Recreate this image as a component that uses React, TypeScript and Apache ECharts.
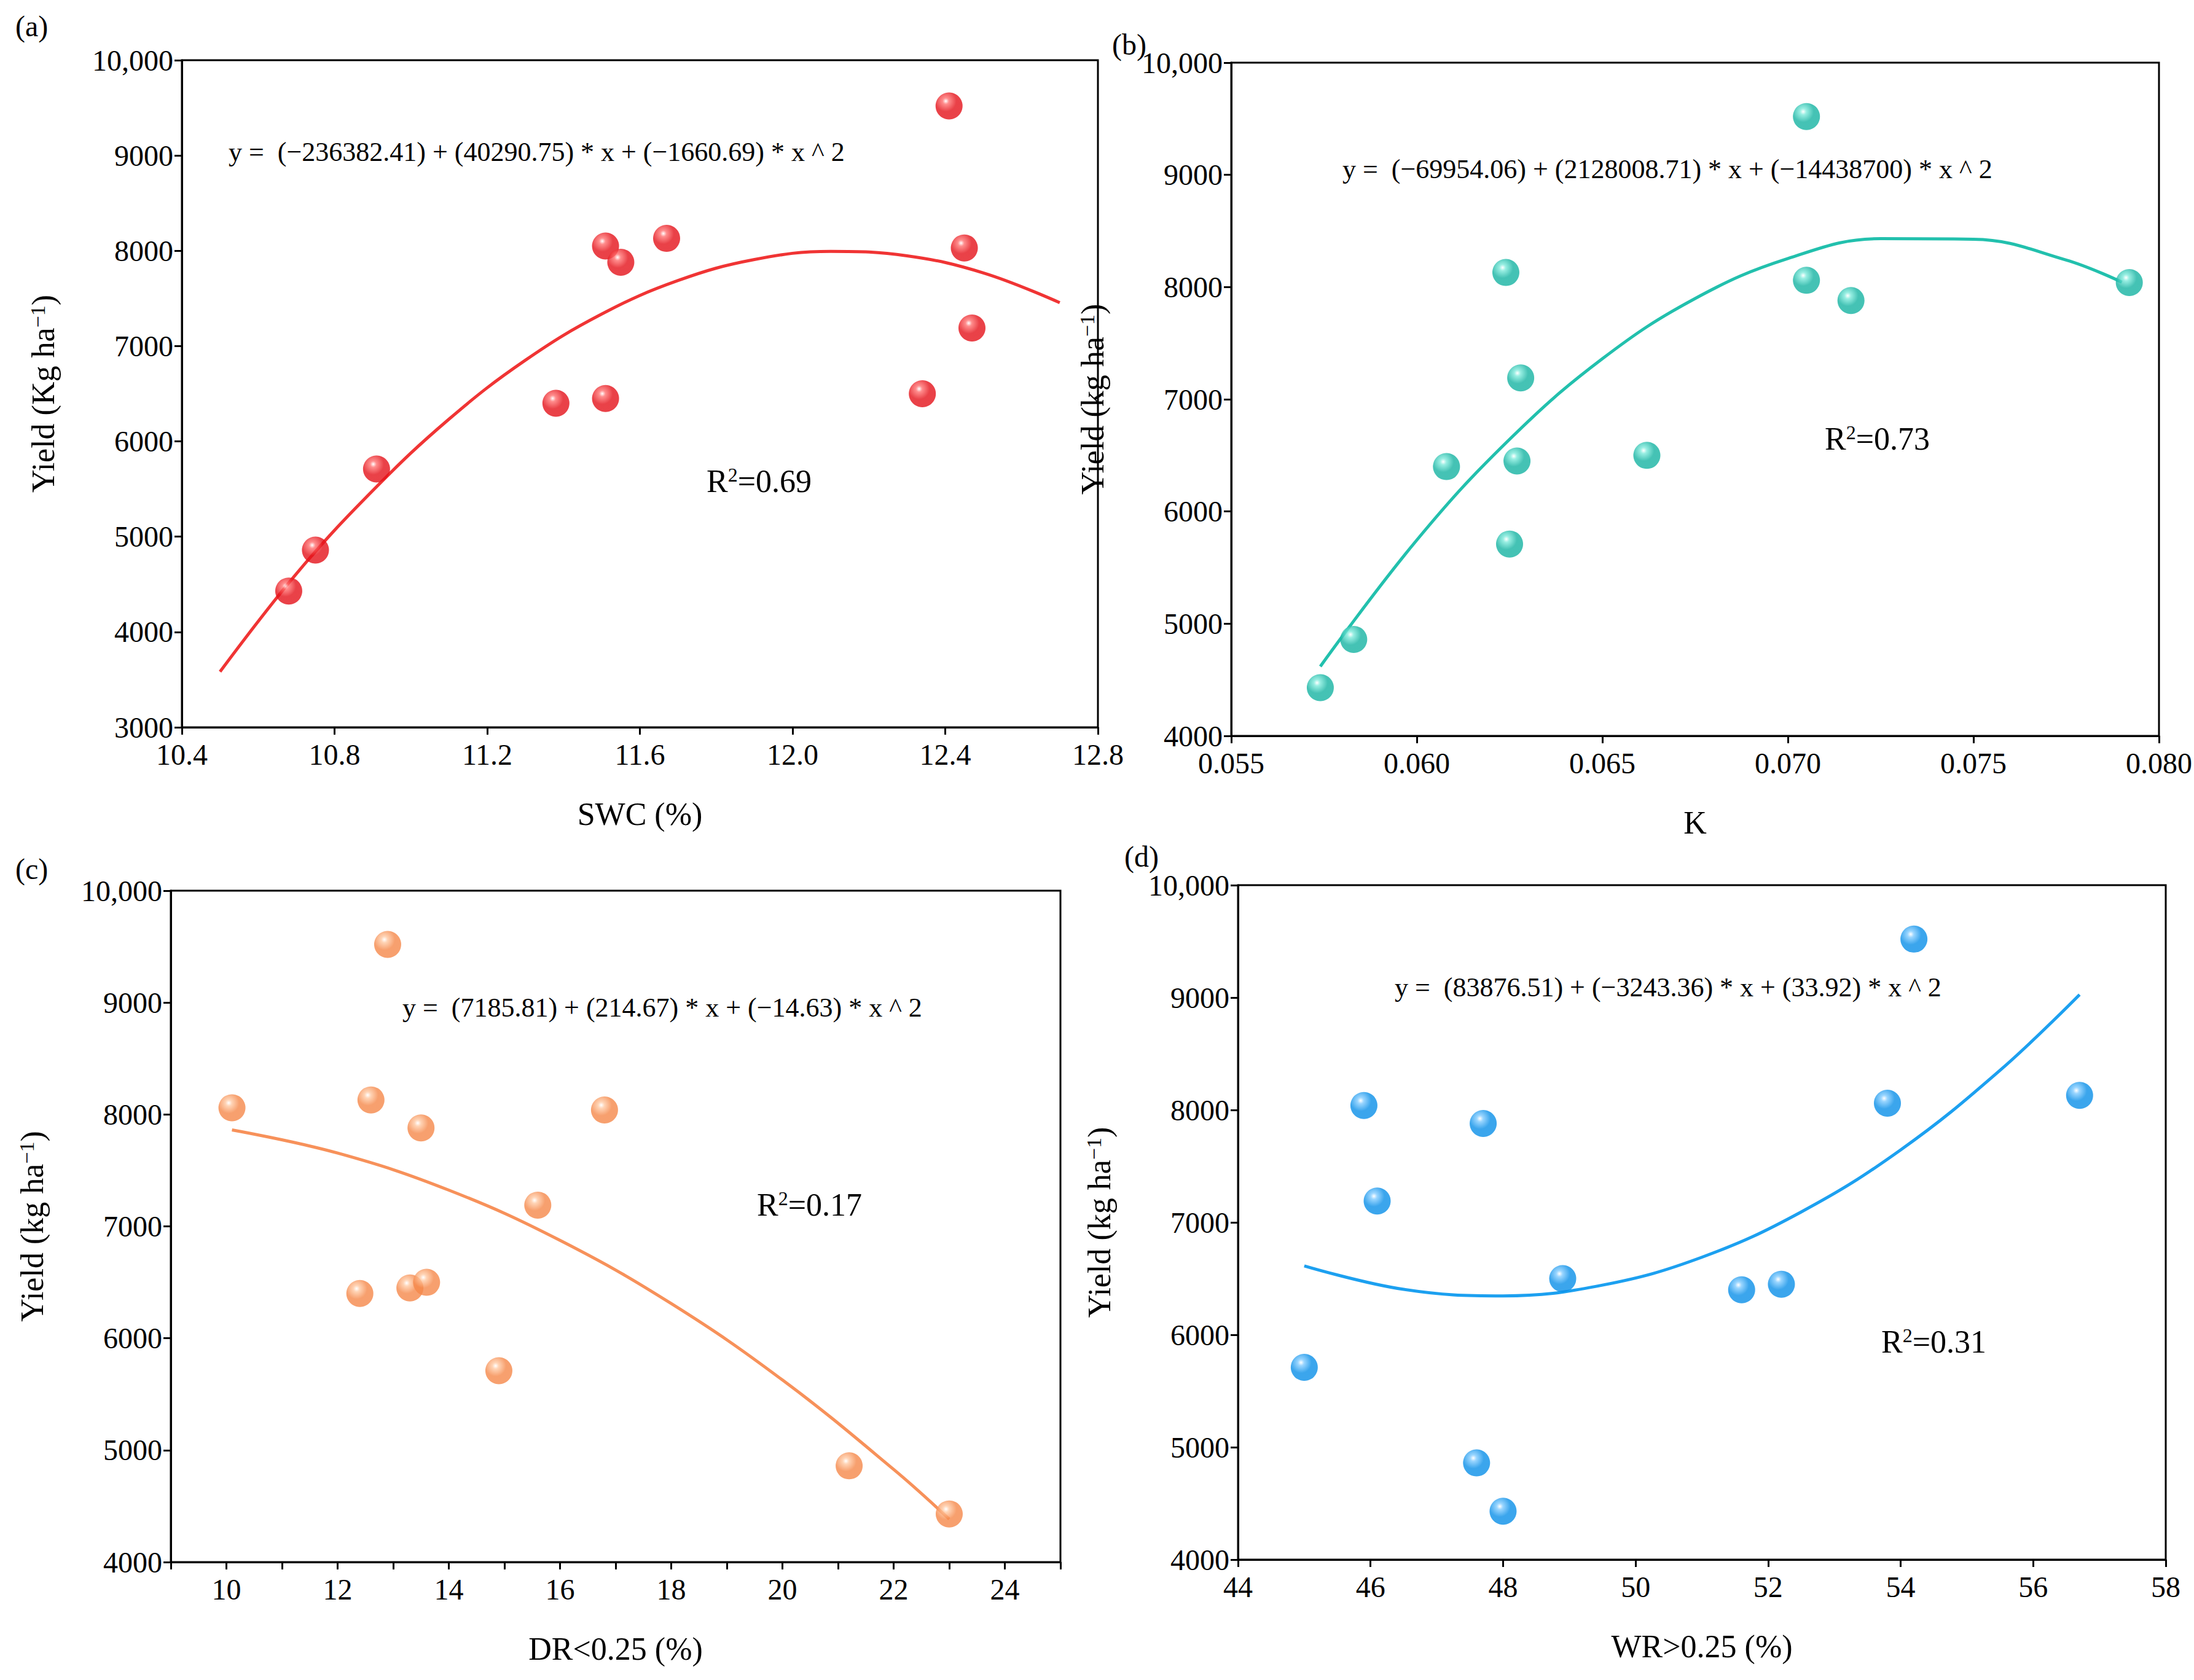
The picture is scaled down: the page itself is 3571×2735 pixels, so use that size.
import React, { useEffect, useRef } from "react";
import * as echarts from "echarts";

// (a) SWC vs yield
const swcPoints = [[10.68, 4430], [10.75, 4860], [10.91, 5710], [11.38, 6400], [11.51, 6450], [11.51, 8050], [11.55, 7880], [11.67, 8130], [12.34, 6500], [12.41, 9520], [12.45, 8030], [12.47, 7190]];
const swcFit = [[10.5, 3583], [10.7, 4611], [10.9, 5483], [11.1, 6234], [11.3, 6852], [11.5, 7336], [11.7, 7688], [11.9, 7908], [12.1, 7994], [12.3, 7947], [12.5, 7768], [12.7, 7456]];
// (b) K vs yield
const kPoints = [[0.0574, 4430], [0.0583, 4860], [0.0608, 6400], [0.0624, 8130], [0.0625, 5710], [0.0627, 6450], [0.0628, 7190], [0.0662, 6500], [0.0705, 9520], [0.0705, 8060], [0.0717, 7880], [0.0792, 8040]];
const kFit = [[0.0574, 4619], [0.06, 5745], [0.0625, 6643], [0.065, 7361], [0.0675, 7898], [0.07, 8254], [0.0725, 8431], [0.075, 8426], [0.0775, 8241], [0.079, 8044]];
// (c) DR<0.25 vs yield
const drPoints = [[10.1, 8060], [12.4, 6400], [12.6, 8130], [12.9, 9520], [13.3, 6450], [13.5, 7880], [13.6, 6500], [14.9, 5710], [15.6, 7190], [16.8, 8040], [21.2, 4860], [23.0, 4430]];
const drFit = [[10.1, 7862], [12, 7655], [14, 7324], [16, 6875], [18, 6310], [20, 5627], [22, 4828], [23, 4384]];
// (d) WR>0.25 vs yield
const wrFit = [[45, 6613], [46.5, 6404], [48, 6346], [49.5, 6442], [51, 6690], [52.5, 7093], [54, 7645], [55.5, 8353], [56.7, 9026]];
const wrPoints = [[45.0, 5710], [45.9, 8040], [46.1, 7190], [47.6, 4860], [47.7, 7880], [48.0, 4430], [48.9, 6500], [51.6, 6400], [52.2, 6450], [53.8, 8060], [54.2, 9520], [56.7, 8130]];

const FONT = "Liberation Serif";

const ball = (base: string, light: string) =>
  new echarts.graphic.RadialGradient(0.38, 0.32, 0.65, [
    { offset: 0, color: "#ffffff" },
    { offset: 0.18, color: light },
    { offset: 0.6, color: base },
    { offset: 1, color: base },
  ]);

export default function App() {
  const ref = useRef<HTMLDivElement>(null);

  useEffect(() => {
    document.body.style.margin = "0";
    if (!ref.current) return;
    const chart = echarts.init(ref.current, undefined, { renderer: "svg" });

    const grids = [
      { left: 296, top: 98, width: 1491, height: 1086 },
      { left: 2004, top: 102, width: 1514, height: 1096 },
      { left: 278, top: 1450, width: 1448, height: 1093 },
      { left: 2015, top: 1441, width: 1510, height: 1098 },
    ];
    const xCfg = [
      { min: 10.4, max: 12.8, interval: 0.4, name: "SWC (%)", fmt: (v: number) => v.toFixed(1) },
      { min: 0.055, max: 0.08, interval: 0.005, name: "K", fmt: (v: number) => v.toFixed(3) },
      { min: 9, max: 25, interval: 1, name: "DR<0.25 (%)", fmt: (v: number) => (Math.round(v) % 2 === 0 ? String(Math.round(v)) : "") },
      { min: 44, max: 58, interval: 2, name: "WR>0.25 (%)", fmt: (v: number) => String(v) },
    ];
    const yMin = [3000, 4000, 4000, 4000];
    const yName = ["Yield (Kg ha{s|−1})", "Yield (kg ha{s|−1})", "Yield (kg ha{s|−1})", "Yield (kg ha{s|−1})"];
    const colors = [
      ["#e4121a", "#ff7070"],
      ["#16b3a2", "#7eeadb"],
      ["#f5884a", "#ffc9a3"],
      ["#0a8fe8", "#80cbff"],
    ];
    const lineColors = ["#f03434", "#22c0ad", "#f7915a", "#1ca0f0"];
    const pts = [swcPoints, kPoints, drPoints, wrPoints];
    const fits = [swcFit, kFit, drFit, wrFit];
    const labelStyle = { fontFamily: FONT, fontSize: 48, color: "#000" };

    const xAxis = xCfg.map((c, i) => ({
      type: "value" as const,
      gridIndex: i,
      min: c.min,
      max: c.max,
      interval: c.interval,
      name: c.name,
      nameLocation: "middle" as const,
      nameGap: 115,
      nameTextStyle: { fontFamily: FONT, fontSize: 52, color: "#000" },
      axisLine: { lineStyle: { color: "#000", width: 3 } },
      axisTick: { lineStyle: { color: "#000", width: 3 }, length: 12 },
      axisLabel: { ...labelStyle, margin: 20, formatter: c.fmt },
      splitLine: { show: false },
    }));
    const yAxis = yMin.map((m, i) => ({
      type: "value" as const,
      gridIndex: i,
      min: m,
      max: 10000,
      interval: 1000,
      name: yName[i],
      nameLocation: "middle" as const,
      nameGap: 200,
      nameTextStyle: { fontFamily: FONT, fontSize: 52, color: "#000", rich: { s: { fontFamily: FONT, fontSize: 34, verticalAlign: "top" as const, color: "#000" } } },
      axisLine: { lineStyle: { color: "#000", width: 3 } },
      axisTick: { lineStyle: { color: "#000", width: 3 }, length: 12 },
      axisLabel: { ...labelStyle, margin: 14, formatter: (v: number) => (v === 10000 ? "10,000" : String(v)) },
      splitLine: { show: false },
    }));

    const series: any[] = [];
    pts.forEach((p, i) => {
      series.push({
        type: "line",
        xAxisIndex: i,
        yAxisIndex: i,
        data: fits[i],
        smooth: 0.4,
        showSymbol: false,
        lineStyle: { color: lineColors[i], width: 5 },
        z: 2,
      });
      series.push({
        type: "scatter",
        xAxisIndex: i,
        yAxisIndex: i,
        data: p,
        symbolSize: 44,
        itemStyle: { color: ball(colors[i][0], colors[i][1]) },
        z: 3,
      });
    });

    const txt = (x: number, y: number, text: string, size = 44) => ({
      type: "text" as const,
      x,
      y,
      style: { text, fontFamily: FONT, fontSize: size, fill: "#000" },
    });
    const r2 = (x: number, y: number, v: string) => ({
      type: "text" as const,
      x,
      y,
      style: { text: "R{s|2}=" + v, fontFamily: FONT, fontSize: 52, fill: "#000", rich: { s: { fontSize: 32, fontFamily: FONT, verticalAlign: "top" } } },
    });

    chart.setOption({
      animation: false,
      backgroundColor: "#fff",
      grid: grids.map((g) => ({ ...g, show: true, borderColor: "#000", borderWidth: 3, backgroundColor: "transparent" })),
      xAxis,
      yAxis,
      series,
      graphic: [
        txt(25, 18, "(a)", 48),
        txt(1810, 48, "(b)", 48),
        txt(25, 1390, "(c)", 48),
        txt(1830, 1370, "(d)", 48),
        txt(372, 225, "y =  (−236382.41) + (40290.75) * x + (−1660.69) * x ^ 2"),
        txt(2185, 253, "y =  (−69954.06) + (2128008.71) * x + (−14438700) * x ^ 2"),
        txt(655, 1618, "y =  (7185.81) + (214.67) * x + (−14.63) * x ^ 2"),
        txt(2270, 1585, "y =  (83876.51) + (−3243.36) * x + (33.92) * x ^ 2"),
        r2(1150, 757, "0.69"),
        r2(2970, 688, "0.73"),
        r2(1232, 1935, "0.17"),
        r2(3062, 2158, "0.31"),
      ],
    });
    return () => chart.dispose();
  }, []);

  return <div ref={ref} style={{ width: 3571, height: 2735 }} />;
}
